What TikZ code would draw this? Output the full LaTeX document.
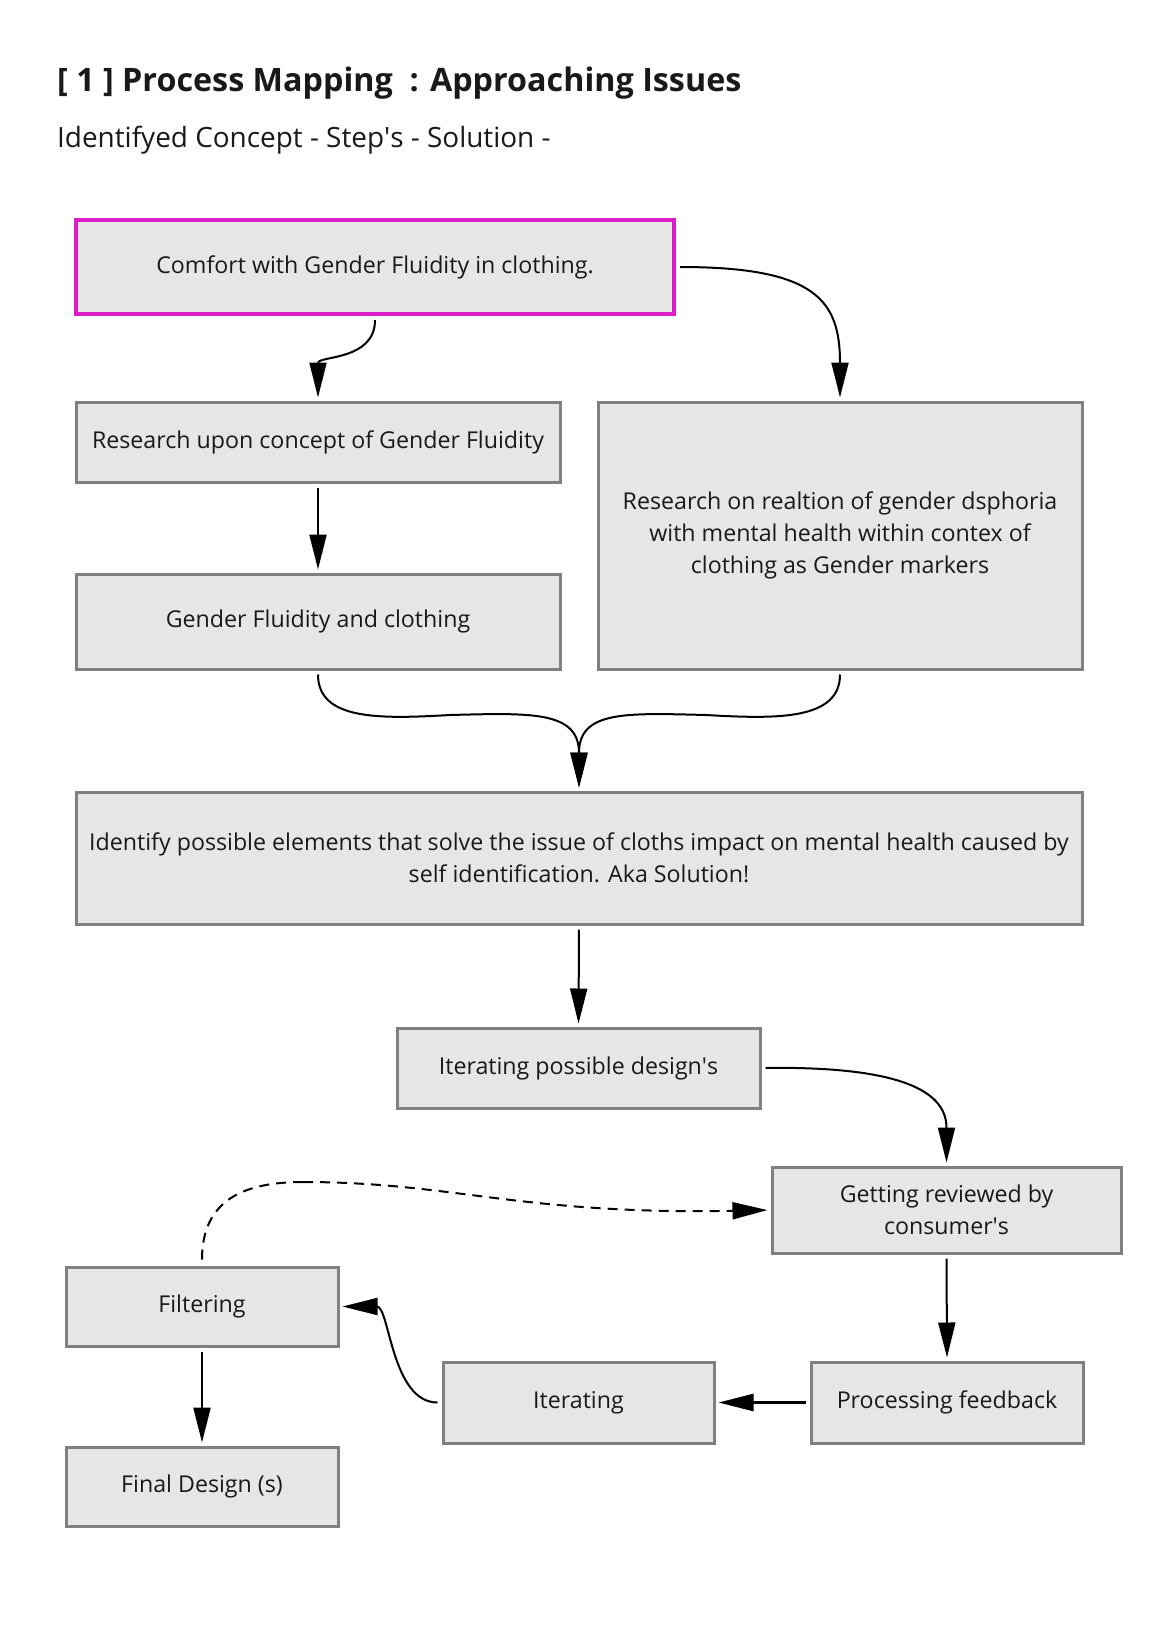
\documentclass[tikz,border=0pt]{standalone}
\usepackage{fontspec}
\setmainfont{Open Sans}
\usetikzlibrary{arrows.meta}
\definecolor{boxfill}{RGB}{230,230,230}
\definecolor{boxline}{RGB}{128,128,128}
\definecolor{magentaline}{RGB}{220,30,200}
\definecolor{txt}{RGB}{25,25,25}
\tikzset{
  stepbox/.style={draw=boxline, line width=3pt, fill=boxfill, inner sep=0pt,
    align=center, text=txt, font=\fontsize{23.2}{32.4}\selectfont},
  conn/.style={draw=black, line width=2pt,
    -{Triangle[length=35pt,width=17pt]}, shorten >=3pt, shorten <=4pt},
  dashconn/.style={conn, dash pattern=on 10pt off 7pt}
}
\begin{document}
\begin{tikzpicture}[x=1pt,y=-1pt]
\useasboundingbox (0,0) rectangle (1159,1640);
\node[anchor=base west, inner sep=0pt, text=txt, font=\fontsize{32.3}{38}\selectfont\bfseries] (title) at (57,92) {[ 1 ] Process Mapping\ \ : Approaching Issues};
\node[anchor=base west, inner sep=0pt, text=txt, font=\fontsize{27.9}{34}\selectfont] (sub) at (57,148) {Identifyed Concept - Step\textquotesingle s - Solution -};

\node[stepbox, draw=magentaline, line width=4pt, minimum width=598pt, minimum height=94pt] (c1) at (375,267) {Comfort with Gender Fluidity in clothing.};
\node[stepbox, minimum width=484pt, minimum height=80pt] (r1) at (318,442) {Research upon concept of Gender Fluidity};
\node[stepbox, minimum width=484pt, minimum height=95pt] (g1) at (318,621.5) {Gender Fluidity and clothing};
\node[stepbox, minimum width=484pt, minimum height=267pt] (r2) at (840,535.5) {Research on realtion of gender dsphoria\\with mental health within contex of\\clothing as Gender markers};
\node[stepbox, minimum width=1006pt, minimum height=132pt] (id) at (579,858) {Identify possible elements that solve the issue of cloths impact on mental health caused by\\self identification. Aka Solution!};
\node[stepbox, minimum width=363pt, minimum height=80pt] (it1) at (578.5,1068) {Iterating possible design\textquotesingle s};
\node[stepbox, minimum width=349pt, minimum height=86pt] (gr) at (946.5,1210) {Getting reviewed by\\consumer\textquotesingle s};
\node[stepbox, minimum width=272pt, minimum height=79pt] (fil) at (202,1306.5) {Filtering};
\node[stepbox, minimum width=271pt, minimum height=81pt] (it2) at (578.5,1402.5) {Iterating};
\node[stepbox, minimum width=272pt, minimum height=81pt] (pf) at (947,1402.5) {Processing feedback};
\node[stepbox, minimum width=272pt, minimum height=79pt] (fd) at (202,1486.5) {Final Design (s)};

\coordinate (m1) at (450,715);
\coordinate (m2) at (706,715);

\draw[conn] (c1.south) .. controls +(0,45) and +(0,-45) .. (r1.north);
\draw[conn] (c1.east) .. controls +(140,0) and +(0,-100) .. (r2.north);
\draw[conn] (r1.south) -- (g1.north);
\draw[line width=2pt, shorten <=4pt] (g1.south) .. controls +(0,50) and +(-70,4) .. (m1);
\draw[conn, shorten <=0pt] (m1) .. controls +(80,-2) and +(0,-80) .. (id.north);
\draw[line width=2pt, shorten <=4pt] (r2.south) .. controls +(0,50) and +(70,4) .. (m2);
\draw[conn, shorten <=0pt] (m2) .. controls +(-80,-2) and +(0,-80) .. (id.north);
\draw[conn] (id.south) -- (it1.north);
\draw[conn] (it1.east) .. controls +(150,-2) and +(0,-70) .. (gr.north);
\draw[conn] (gr.south) -- (pf.north);
\draw[conn, line width=2.6pt] (pf.west) -- (it2.east);
\draw[conn] (it2.west) .. controls +(-50,0) and +(50,0) .. (fil.east);
\draw[conn] (fil.south) -- (fd.north);
\coordinate (pk) at (303,1182);
\draw[line width=2pt, dash pattern=on 10pt off 7pt, shorten <=6pt] (fil.north) .. controls +(0,-65) and +(-60,0) .. (pk);
\draw[dashconn, shorten <=0pt] (pk) .. controls +(150,0) and +(-250,5) .. (gr.west);
\end{tikzpicture}
\end{document}
